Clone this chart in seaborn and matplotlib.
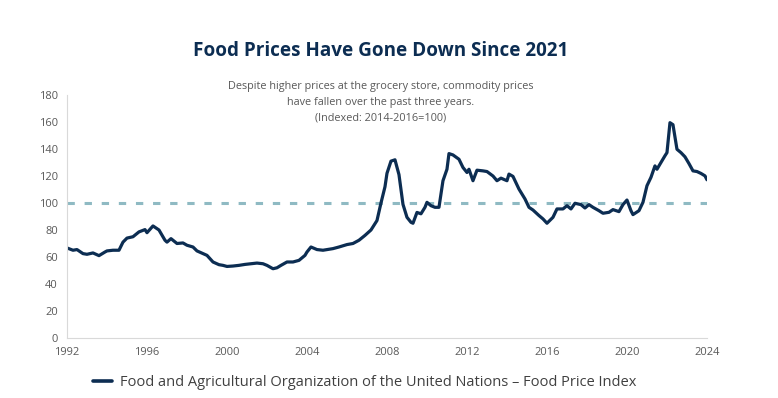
"""FAO food price index line chart"""
import matplotlib
matplotlib.use("Agg")
import matplotlib.pyplot as plt
import seaborn as sns
import pandas as pd

# values (year, index 2014-2016=100)
years = [1992.0, 1992.3, 1992.5, 1992.8, 1993.0, 1993.3, 1993.6, 1993.9, 1994.0, 1994.3,
         1994.6, 1994.8, 1995.0, 1995.3, 1995.6, 1995.9, 1996.0, 1996.3, 1996.6, 1996.9,
         1997.0, 1997.2, 1997.5, 1997.8, 1998.0, 1998.3, 1998.5, 1998.8, 1999.0, 1999.3,
         1999.6, 1999.8, 2000.0, 2000.3, 2000.6, 2000.9, 2001.2, 2001.5, 2001.8, 2002.0,
         2002.3, 2002.5, 2002.7, 2003.0, 2003.3, 2003.6, 2003.9, 2004.0, 2004.2, 2004.5,
         2004.8, 2005.0, 2005.3, 2005.6, 2006.0, 2006.3, 2006.6, 2006.9, 2007.2, 2007.5,
         2007.7, 2007.9, 2008.0, 2008.2, 2008.4, 2008.6, 2008.8, 2009.0, 2009.2, 2009.3,
         2009.5, 2009.7, 2009.9, 2010.0, 2010.2, 2010.4, 2010.6, 2010.8, 2011.0, 2011.1,
         2011.3, 2011.6, 2011.8, 2012.0, 2012.1, 2012.3, 2012.5, 2012.8, 2013.0, 2013.3,
         2013.5, 2013.7, 2014.0, 2014.1, 2014.3, 2014.6, 2014.9, 2015.1, 2015.3, 2015.6,
         2015.8, 2016.0, 2016.3, 2016.5, 2016.8, 2017.0, 2017.2, 2017.4, 2017.7, 2017.9,
         2018.1, 2018.3, 2018.6, 2018.8, 2019.1, 2019.3, 2019.6, 2019.8, 2020.0, 2020.2,
         2020.3, 2020.6, 2020.8, 2021.0, 2021.2, 2021.4, 2021.5, 2021.7, 2021.9, 2022.0,
         2022.15, 2022.3, 2022.5, 2022.7, 2022.9, 2023.1, 2023.3, 2023.5, 2023.7, 2023.9,
         2024.0]
food_index = [66.7, 65.0, 65.5, 62.5, 62.0, 63.0, 61.0, 63.7, 64.5, 65.0,
              65.0, 71.0, 74.0, 75.0, 78.6, 80.3, 78.0, 83.0, 80.0, 72.4,
              71.0, 73.6, 70.0, 70.4, 68.7, 67.4, 64.5, 62.5, 61.2, 56.3,
              54.3, 53.8, 53.0, 53.3, 53.8, 54.5, 55.0, 55.5, 55.0, 53.8,
              51.3, 52.0, 53.8, 56.3, 56.3, 57.5, 61.2, 63.7, 67.4, 65.5,
              65.0, 65.5, 66.2, 67.4, 69.2, 70.0, 72.4, 76.0, 80.0, 87.0,
              100.0, 112.0, 122.0, 131.0, 132.0, 121.0, 99.0, 89.4, 85.7, 85.0,
              93.0, 92.0, 96.8, 100.5, 98.0, 96.8, 96.8, 116.5, 125.0, 136.6,
              135.6, 132.4, 126.3, 122.6, 125.0, 116.5, 124.3, 123.8, 123.3, 120.0,
              116.5, 118.4, 116.5, 121.4, 119.7, 110.3, 103.0, 96.8, 94.8, 90.7,
              88.2, 85.0, 89.4, 95.6, 95.6, 98.0, 95.6, 99.8, 98.8, 96.3,
              98.8, 96.8, 94.3, 92.4, 93.1, 95.1, 93.6, 98.8, 102.2, 94.3,
              91.4, 94.3, 100.5, 112.8, 119.0, 127.5, 125.0, 130.0, 135.0, 137.3,
              159.5, 158.0, 139.8, 137.3, 134.2, 129.2, 123.8, 123.3, 121.9, 120.1,
              117.2]
base_level = 100
x_ticks = list(range(1992, 2025, 4))
y_ticks = list(range(0, 181, 20))

title = "Food Prices Have Gone Down Since 2021"
subtitle = ("Despite higher prices at the grocery store, commodity prices\n"
            "have fallen over the past three years.\n"
            "(Indexed: 2014-2016=100)")
series_name = "Food and Agricultural Organization of the United Nations \u2013 Food Price Index"

df = pd.DataFrame({"year": years, "value": food_index, "series": series_name})

sns.set_style("white")
plt.rcParams["font.family"] = ["Open Sans", "DejaVu Sans"]

navy = "#0c2d52"
grey_txt = "#595959"
fig = plt.figure(figsize=(7.78, 3.98), dpi=100)
ax = fig.add_axes([0.0861, 0.1508, 0.8226, 0.6105])

ax.axhline(base_level, color="#8fbac3", lw=2.2, ls=(0, (2.4, 3.2)), zorder=1)
sns.lineplot(data=df, x="year", y="value", hue="series", palette=[navy],
             lw=2.3, ax=ax, zorder=2)

ax.set_xlim(1992, 2024)
ax.set_ylim(0, 180)
ax.set_xticks(x_ticks)
ax.set_yticks(y_ticks)
ax.set_xlabel("")
ax.set_ylabel("")
ax.tick_params(axis="both", colors="#d0d0d0", labelcolor=grey_txt, labelsize=8,
               length=3, width=0.8)
for side in ["top", "right"]:
    ax.spines[side].set_visible(False)
for side in ["left", "bottom"]:
    ax.spines[side].set_color("#d9d9d9")
    ax.spines[side].set_linewidth(0.8)

# legend sits a little left of the axes centre, as in the source
leg = ax.legend(loc="upper center", bbox_to_anchor=(0.465, -0.1), frameon=False,
                fontsize=10.5, handlelength=1.3, handletextpad=0.5)
for t in leg.get_texts():
    t.set_color("#404040")
for h in leg.get_lines():
    h.set_linewidth(2.6)

fig.text(0.489, 0.872, title, ha="center", va="center", fontsize=13.6,
         fontweight="bold", color=navy)
fig.text(0.489, 0.743, subtitle, ha="center", va="center", fontsize=7.8,
         color=grey_txt, linespacing=1.6)

fig.savefig("out.png", dpi=100)
